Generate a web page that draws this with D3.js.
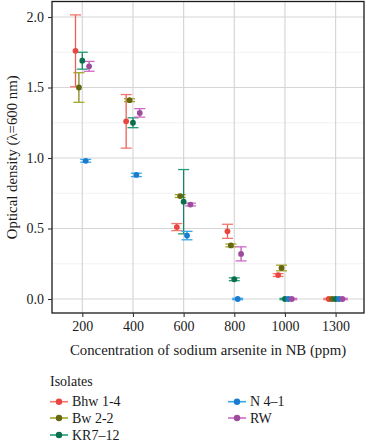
<!DOCTYPE html>
<html>
<head>
<meta charset="utf-8">
<script src="https://cdn.jsdelivr.net/npm/d3@7"></script>
<style>
  body { margin: 0; background: #fff; }
</style>
</head>
<body>
<svg id="chart" width="369" height="441"></svg>
<script>
// concentrations (x categories) and isolates (series)
const concentrations = ["200", "400", "600", "800", "1000", "1300"];
const isolates = ["Bhw 1-4", "Bw 2-2", "KR7\u201312", "N 4\u20131", "RW"];

// mean optical density per isolate, one value per concentration
const meanBhw = [1.76, 1.26, 0.51, 0.48, 0.17, 0];
const meanBw  = [1.50, 1.41, 0.73, 0.38, 0.22, 0];
const meanKR  = [1.69, 1.25, 0.69, 0.14, 0, 0];
const meanN   = [0.98, 0.88, 0.45, 0, 0, 0];
const meanRW  = [1.65, 1.32, 0.67, 0.32, 0, 0];

// error (+/-) per isolate
const errBhw = [0.255, 0.19, 0.025, 0.05, 0.01, 0.005];
const errBw  = [0.105, 0.01, 0.01, 0.01, 0.02, 0.005];
const errKR  = [0.06, 0.035, 0.228, 0.01, 0.005, 0.005];
const errN   = [0.01, 0.012, 0.03, 0.005, 0.005, 0.005];
const errRW  = [0.035, 0.03, 0.01, 0.05, 0.005, 0.005];

const yTicks = [0, 0.5, 1.0, 1.5, 2.0];

const pointColors = ["#e8463f", "#66660f", "#0b6e4c", "#1b7ccf", "#9d4c9c"];
const barColors   = ["#f2766d", "#a3a528", "#1f9c78", "#35a9e8", "#d068c8"];

const FONT = "'Liberation Serif', 'Times New Roman', Times, 'DejaVu Serif', serif";

const means = [meanBhw, meanBw, meanKR, meanN, meanRW];
const errs = [errBhw, errBw, errKR, errN, errRW];

const data = [];
isolates.forEach((iso, i) => {
  concentrations.forEach((c, j) => {
    data.push({ iso: iso, idx: i, conc: c, mean: means[i][j], err: errs[i][j] });
  });
});

const panel = { left: 52, right: 364, top: 1.5, bottom: 313 };

const svg = d3.select("#chart");

const x = d3.scalePoint()
    .domain(concentrations)
    .range([82.3, 335.6]);

const y = d3.scaleLinear()
    .domain([0, 2])
    .range([299, 17]);

const dodge = d3.scalePoint()
    .domain(isolates)
    .range([-6.8, 6.8]);

const color = d3.scaleOrdinal().domain(isolates).range(pointColors);
const barColor = d3.scaleOrdinal().domain(isolates).range(barColors);

// gridlines
const grid = svg.append("g");
grid.selectAll(".minor").data([0.25, 0.75, 1.25, 1.75]).enter()
  .append("line")
    .attr("x1", panel.left).attr("x2", panel.right)
    .attr("y1", d => y(d)).attr("y2", d => y(d))
    .attr("stroke", "#ececec").attr("stroke-width", 0.7);
grid.selectAll(".majorY").data(yTicks).enter()
  .append("line")
    .attr("x1", panel.left).attr("x2", panel.right)
    .attr("y1", d => y(d)).attr("y2", d => y(d))
    .attr("stroke", "#d6d6d6").attr("stroke-width", 1.2);
grid.selectAll(".majorX").data(concentrations).enter()
  .append("line")
    .attr("x1", d => x(d)).attr("x2", d => x(d))
    .attr("y1", panel.top).attr("y2", panel.bottom)
    .attr("stroke", "#d6d6d6").attr("stroke-width", 1.2);

// error bars
const capHalf = 5.5;
const bars = svg.append("g").selectAll("g").data(data).enter().append("g")
    .attr("stroke", d => barColor(d.iso))
    .attr("stroke-width", 1.3);
bars.append("line")
    .attr("x1", d => x(d.conc) + dodge(d.iso)).attr("x2", d => x(d.conc) + dodge(d.iso))
    .attr("y1", d => y(d.mean - d.err)).attr("y2", d => y(d.mean + d.err))
    .attr("stroke", d => d3.interpolateRgb(barColor(d.iso), color(d.iso))(0.5));
bars.append("line")
    .attr("x1", d => x(d.conc) + dodge(d.iso) - capHalf).attr("x2", d => x(d.conc) + dodge(d.iso) + capHalf)
    .attr("y1", d => y(d.mean + d.err)).attr("y2", d => y(d.mean + d.err));
bars.append("line")
    .attr("x1", d => x(d.conc) + dodge(d.iso) - capHalf).attr("x2", d => x(d.conc) + dodge(d.iso) + capHalf)
    .attr("y1", d => y(d.mean - d.err)).attr("y2", d => y(d.mean - d.err));

// points
svg.append("g").selectAll("circle").data(data).enter()
  .append("circle")
    .attr("cx", d => x(d.conc) + dodge(d.iso))
    .attr("cy", d => y(d.mean))
    .attr("r", 2.9)
    .attr("fill", d => color(d.iso));

// panel border
svg.append("rect")
    .attr("x", panel.left).attr("y", panel.top)
    .attr("width", panel.right - panel.left).attr("height", panel.bottom - panel.top)
    .attr("fill", "none").attr("stroke", "#1a1a1a").attr("stroke-width", 1.3);

// axes
const xAxis = d3.axisBottom(x).tickSize(4).tickPadding(4);
const yAxis = d3.axisLeft(y).tickValues(yTicks).tickFormat(d3.format(".1f")).tickSize(4).tickPadding(4);

const xAxisG = svg.append("g").attr("transform", `translate(0,${panel.bottom})`).call(xAxis);
const yAxisG = svg.append("g").attr("transform", `translate(${panel.left},0)`).call(yAxis);
[xAxisG, yAxisG].forEach(g => {
  g.attr("font-family", null).attr("font-size", null);
  g.select(".domain").remove();
  g.selectAll(".tick line").attr("stroke", "#333").attr("stroke-width", 1.1);
  g.selectAll("text")
      .style("font-family", FONT)
      .style("font-size", "14px")
      .attr("fill", "#1a1a1a");
});

svg.append("text")
    .attr("x", (panel.left + panel.right) / 2).attr("y", 355)
    .attr("text-anchor", "middle")
    .style("font-family", FONT)
    .style("font-size", "14.8px")
    .attr("fill", "#1a1a1a")
    .text("Concentration of sodium arsenite in NB (ppm)");

svg.append("text")
    .attr("transform", `translate(17,${(panel.top + panel.bottom) / 2}) rotate(-90)`)
    .attr("text-anchor", "middle")
    .style("font-family", FONT)
    .style("font-size", "14.8px")
    .attr("fill", "#1a1a1a")
    .text("Optical density (\u03bb=600 nm)");

// legend
const legend = svg.append("g");
legend.append("text")
    .attr("x", 50).attr("y", 386)
    .style("font-family", FONT)
    .style("font-size", "14px")
    .attr("fill", "#1a1a1a")
    .text("Isolates");
const legendPos = [[50, 401.7], [50, 418], [50, 435], [228, 401.7], [228, 418]];
const item = legend.selectAll(".item").data(isolates).enter().append("g")
    .attr("transform", (d, i) => `translate(${legendPos[i][0]},${legendPos[i][1]})`);
item.append("line")
    .attr("x1", 0).attr("x2", 18).attr("y1", 0).attr("y2", 0)
    .attr("stroke", d => barColor(d)).attr("stroke-width", 1.6);
item.append("circle")
    .attr("cx", 9).attr("cy", 0).attr("r", 3.2)
    .attr("fill", d => color(d));
item.append("text")
    .attr("x", 22).attr("y", 4.5)
    .style("font-family", FONT)
    .style("font-size", "14px")
    .attr("fill", "#1a1a1a")
    .text(d => d);
</script>
</body>
</html>
